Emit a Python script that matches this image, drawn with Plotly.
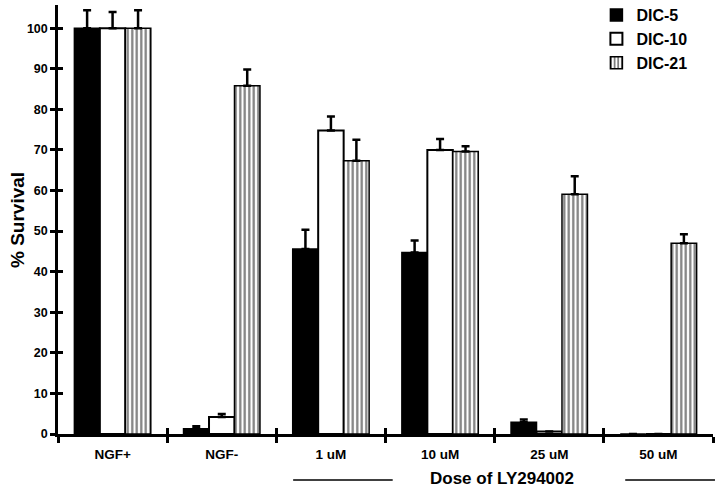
import plotly.graph_objects as go

# data
doses = ["NGF+", "NGF-", "1 uM", "10 uM", "25 uM", "50 uM"]
dic5 = [100, 1.3, 45.6, 44.7, 2.9, 0]
dic5_err = [4.4, 0.6, 4.7, 3.0, 0.7, 0]
dic10 = [100, 4.2, 74.8, 70.0, 0.6, 0]
dic10_err = [4.0, 0.7, 3.4, 2.7, 0, 0]
dic21 = [100, 85.8, 67.3, 69.6, 59.1, 47.0]
dic21_err = [4.4, 4.0, 5.2, 1.3, 4.4, 2.2]

FONT = "Arial, Liberation Sans, sans-serif"
Y_MAX = 105.7


def err(vals):
    return dict(type="data", symmetric=False, array=vals, arrayminus=[0] * len(vals),
                thickness=2.5, width=4, color="black")


fig = go.Figure()

fig.add_trace(go.Bar(
    x=doses, y=dic5, name="DIC-5",
    marker=dict(color="black", line=dict(color="black", width=1.5)),
    error_y=err(dic5_err)
))
fig.add_trace(go.Bar(
    x=doses, y=dic10, name="DIC-10",
    marker=dict(color="white", line=dict(color="black", width=2)),
    error_y=err(dic10_err)
))
fig.add_trace(go.Bar(
    x=doses, y=dic21, name="DIC-21",
    marker=dict(color="white", line=dict(color="black", width=1.5),
                pattern=dict(shape="|", size=4.5, solidity=0.5,
                             fgcolor="black", bgcolor="white")),
    error_y=err(dic21_err)
))

# invisible trace so the overlay axes (inner half of the crossing ticks) get drawn
fig.add_trace(go.Scatter(x=doses, y=[0] * len(doses), xaxis="x2", yaxis="y2",
                         mode="markers", marker=dict(opacity=0),
                         showlegend=False, hoverinfo="skip"))

bold = dict(family=FONT, color="black", weight="bold")

fig.update_layout(
    width=720, height=491,
    margin=dict(l=58, r=7, t=5, b=57, autoexpand=False),
    paper_bgcolor="white", plot_bgcolor="white",
    barmode="group", bargap=0.3, bargroupgap=0,
    font=dict(family=FONT, color="black"),
    showlegend=True,
    legend=dict(x=0.822, y=1.016, xanchor="left", yanchor="top",
                font=dict(bold, size=16), itemwidth=30, tracegroupgap=0,
                bgcolor="rgba(0,0,0,0)"),
    xaxis=dict(
        type="category", categoryarray=doses, range=[-0.5, 5.5], automargin=False,
        showline=True, linecolor="black", linewidth=2.5,
        ticks="outside", tickson="boundaries", ticklen=6, tickwidth=2.5, tickcolor="black",
        tickfont=dict(bold, size=13.5), ticklabelstandoff=6,
        showgrid=False, zeroline=False
    ),
    yaxis=dict(
        range=[0, Y_MAX], dtick=10, tick0=0, automargin=False,
        showline=True, linecolor="black", linewidth=2.5,
        ticks="outside", ticklen=5, tickwidth=2.5, tickcolor="black",
        tickfont=dict(bold, size=12.5), showgrid=False, zeroline=False
    ),
    xaxis2=dict(
        overlaying="x", type="category", categoryarray=doses, range=[-0.5, 5.5],
        automargin=False,
        ticks="inside", tickson="boundaries", ticklen=6, tickwidth=2.5, tickcolor="black",
        showticklabels=False, showgrid=False, showline=False, zeroline=False
    ),
    yaxis2=dict(
        overlaying="y", range=[0, Y_MAX], dtick=10, tick0=0, automargin=False,
        ticks="inside", ticklen=5, tickwidth=2.5, tickcolor="black",
        showticklabels=False, showgrid=False, showline=False, zeroline=False
    ),
)

# axis titles
fig.add_annotation(text="% Survival", xref="paper", yref="paper", x=-0.061, y=0.499,
                   xanchor="center", yanchor="middle", textangle=-90, showarrow=False,
                   font=dict(bold, size=19))
fig.add_annotation(text="Dose of LY294002", xref="paper", yref="paper", x=0.678, y=-0.1026,
                   xanchor="center", yanchor="middle", showarrow=False,
                   font=dict(bold, size=17))

# short rules either side of the dose title
for x0, x1 in [(0.359, 0.511), (0.866, 1.003)]:
    fig.add_shape(type="line", xref="paper", yref="paper", x0=x0, x1=x1,
                  y0=-0.107, y1=-0.107, line=dict(color="black", width=1.5))

# drop the default page margin so the 720x491 figure sits at the window origin
fig.write_html("out.html", config={"displayModeBar": False},
               post_script="document.body.style.margin='0px';")
